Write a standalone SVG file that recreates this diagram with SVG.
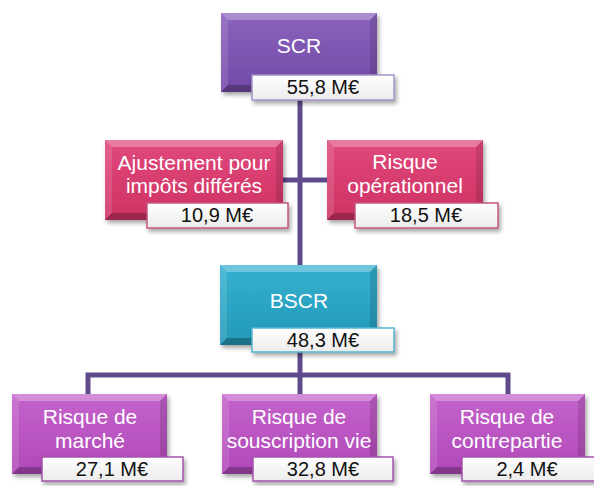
<svg xmlns="http://www.w3.org/2000/svg" width="594" height="486" viewBox="0 0 594 486">
<defs>
<linearGradient id="gPurple" x1="0" y1="0" x2="0" y2="1"><stop offset="0" stop-color="#8a63bd"/><stop offset="1" stop-color="#7149a6"/></linearGradient>
<linearGradient id="gPink" x1="0" y1="0" x2="0" y2="1"><stop offset="0" stop-color="#e0497a"/><stop offset="1" stop-color="#cf3264"/></linearGradient>
<linearGradient id="gTeal" x1="0" y1="0" x2="0" y2="1"><stop offset="0" stop-color="#35b1cf"/><stop offset="1" stop-color="#2398b8"/></linearGradient>
<linearGradient id="gOrchid" x1="0" y1="0" x2="0" y2="1"><stop offset="0" stop-color="#c462cb"/><stop offset="1" stop-color="#b049b9"/></linearGradient>
<linearGradient id="gLabel" x1="0" y1="0" x2="0" y2="1"><stop offset="0" stop-color="#ffffff"/><stop offset="1" stop-color="#ebebeb"/></linearGradient>
<filter id="shadow" x="-10%" y="-10%" width="130%" height="140%"><feDropShadow dx="2" dy="3" stdDeviation="2" flood-color="#000" flood-opacity="0.35"/></filter>
</defs>
<style>
.conn{stroke:#5f4a8b;stroke-width:5;fill:none}
.box{filter:url(#shadow)}
.bt{fill:#fff;fill-opacity:.28}
.bl{fill:#fff;fill-opacity:.12}
.br{fill:#000;fill-opacity:.12}
.bb{fill:#000;fill-opacity:.25}
.title{font-family:"Liberation Sans",Arial,sans-serif;font-size:21px;fill:#fff;text-anchor:middle}
.val{font-family:"Liberation Sans",Arial,sans-serif;font-size:20px;fill:#111;text-anchor:middle}
.lab{fill:url(#gLabel);stroke-width:1.5;filter:url(#shadow)}
.lPurple{stroke:#a492c8}
.lPink{stroke:#c8567e}
.lTeal{stroke:#55b6d0}
.lOrchid{stroke:#a552ad}
</style>

<g id="connectors">
<line class="conn" x1="300" y1="98" x2="300" y2="266"/>
<line class="conn" x1="283" y1="180" x2="328" y2="180"/>
<line class="conn" x1="300" y1="350" x2="300" y2="375"/>
<polyline class="conn" points="88,395 88,375 508,375 508,395"/>
<line class="conn" x1="300" y1="375" x2="300" y2="395"/>
</g>

<g id="scr">
<g class="box"><rect x="221" y="13" width="156" height="79" fill="url(#gPurple)"/></g>
<polygon class="bt" points="221,13 377,13 370,20 228,20"/>
<polygon class="bl" points="221,13 228,20 228,85 221,92"/>
<polygon class="br" points="377,13 370,20 370,85 377,92"/>
<polygon class="bb" points="221,92 377,92 370,85 228,85"/>
<text class="title" x="299" y="53">SCR</text>
<rect class="lab lPurple" x="252" y="75" width="142" height="25"/>
<text class="val" x="323" y="94">55,8 M€</text>
</g>

<g id="ajustement">
<g class="box"><rect x="105" y="140" width="178" height="80" fill="url(#gPink)"/></g>
<polygon class="bt" points="105,140 283,140 276,147 112,147"/>
<polygon class="bl" points="105,140 112,147 112,213 105,220"/>
<polygon class="br" points="283,140 276,147 276,213 283,220"/>
<polygon class="bb" points="105,220 283,220 276,213 112,213"/>
<text class="title" x="194" y="170">Ajustement pour</text>
<text class="title" x="194" y="193">impôts différés</text>
<rect class="lab lPink" x="147" y="203" width="141" height="25"/>
<text class="val" x="217" y="222">10,9 M€</text>
</g>

<g id="operationnel">
<g class="box"><rect x="327" y="140" width="156" height="80" fill="url(#gPink)"/></g>
<polygon class="bt" points="327,140 483,140 476,147 334,147"/>
<polygon class="bl" points="327,140 334,147 334,213 327,220"/>
<polygon class="br" points="483,140 476,147 476,213 483,220"/>
<polygon class="bb" points="327,220 483,220 476,213 334,213"/>
<text class="title" x="405" y="169">Risque</text>
<text class="title" x="405" y="193">opérationnel</text>
<rect class="lab lPink" x="355" y="203" width="143" height="25"/>
<text class="val" x="426" y="222">18,5 M€</text>
</g>

<g id="bscr">
<g class="box"><rect x="220" y="265" width="157" height="80" fill="url(#gTeal)"/></g>
<polygon class="bt" points="220,265 377,265 370,272 227,272"/>
<polygon class="bl" points="220,265 227,272 227,338 220,345"/>
<polygon class="br" points="377,265 370,272 370,338 377,345"/>
<polygon class="bb" points="220,345 377,345 370,338 227,338"/>
<text class="title" x="299" y="308">BSCR</text>
<rect class="lab lTeal" x="252" y="328" width="142" height="24"/>
<text class="val" x="323" y="347">48,3 M€</text>
</g>

<g id="marche">
<g class="box"><rect x="12" y="394" width="155" height="80" fill="url(#gOrchid)"/></g>
<polygon class="bt" points="12,394 167,394 160,401 19,401"/>
<polygon class="bl" points="12,394 19,401 19,467 12,474"/>
<polygon class="br" points="167,394 160,401 160,467 167,474"/>
<polygon class="bb" points="12,474 167,474 160,467 19,467"/>
<text class="title" x="90" y="424">Risque de</text>
<text class="title" x="90" y="448">marché</text>
<rect class="lab lOrchid" x="42" y="457" width="141" height="24"/>
<text class="val" x="112" y="476">27,1 M€</text>
</g>

<g id="souscription">
<g class="box"><rect x="222" y="394" width="155" height="80" fill="url(#gOrchid)"/></g>
<polygon class="bt" points="222,394 377,394 370,401 229,401"/>
<polygon class="bl" points="222,394 229,401 229,467 222,474"/>
<polygon class="br" points="377,394 370,401 370,467 377,474"/>
<polygon class="bb" points="222,474 377,474 370,467 229,467"/>
<text class="title" x="299" y="424">Risque de</text>
<text class="title" x="299" y="448">souscription vie</text>
<rect class="lab lOrchid" x="253" y="457" width="140" height="24"/>
<text class="val" x="323" y="476">32,8 M€</text>
</g>

<g id="contrepartie">
<g class="box"><rect x="430" y="394" width="155" height="80" fill="url(#gOrchid)"/></g>
<polygon class="bt" points="430,394 585,394 578,401 437,401"/>
<polygon class="bl" points="430,394 437,401 437,467 430,474"/>
<polygon class="br" points="585,394 578,401 578,467 585,474"/>
<polygon class="bb" points="430,474 585,474 578,467 437,467"/>
<text class="title" x="507" y="424">Risque de</text>
<text class="title" x="507" y="448">contrepartie</text>
<rect class="lab lOrchid" x="462" y="457" width="140" height="24"/>
<text class="val" x="527" y="476">2,4 M€</text>
</g>
</svg>
